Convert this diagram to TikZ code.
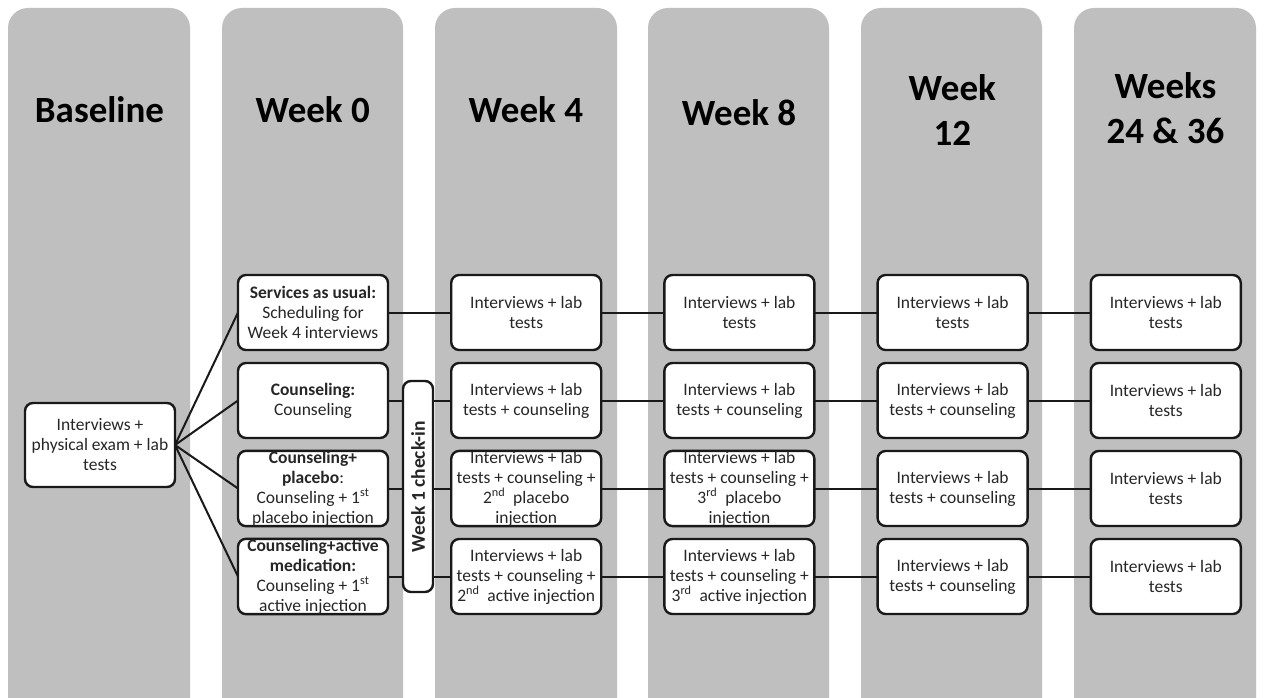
\documentclass[tikz,border=0pt]{standalone}
\usepackage{fontspec}
\setmainfont{Carlito}
\usetikzlibrary{
    positioning,
}

\definecolor{stageGray}{HTML}{BFBFBF}

\begin{document}
\begin{tikzpicture}[
    x=1pt, y=-1pt,
    node distance= 13pt and 63.2pt,
    stage/.style={fill=stageGray, rounded corners=20pt},
    stageTitle/.style={font=\bfseries\fontsize{37}{45}\selectfont, align=center, text=black},
    cell/.style={draw=black!90, fill=white, line width=2.4pt, rounded corners=8pt,
                 minimum width=150pt, minimum height=75pt, inner sep=0pt, outer sep=0pt,
                 align=center, font=\fontsize{17.5}{20}\selectfont, text=black!85},
    checkin/.style={cell, rotate=90, minimum width=211pt, minimum height=30pt,
                    font=\bfseries\fontsize{19.5}{22}\selectfont},
    link/.style={line width=2pt, draw=black!90}
]

\useasboundingbox[fill=white] (0,0) rectangle (1264,698);

% time columns
\begin{scope}
    \clip (0,0) rectangle (1264,698);
    \fill[stage] (8,8) rectangle (190,730);
    \fill[stage] (222,8) rectangle (403,730);
    \fill[stage] (435,8) rectangle (617,730);
    \fill[stage] (648,8) rectangle (829,730);
    \fill[stage] (861,8) rectangle (1042,730);
    \fill[stage] (1074,8) rectangle (1256,730);
\end{scope}

\node[stageTitle] (baselineTitle) at (99.5,110) {Baseline};
\node[stageTitle] (weekZeroTitle) at (312.7,110) {Week 0};
\node[stageTitle] (weekFourTitle) at (525.9,110) {Week 4};
\node[stageTitle] (weekEightTitle) at (739.1,113) {Week 8};
\node[stageTitle] (weekTwelveTitle) at (952.3,110) {Week\\12};
\node[stageTitle] (weekLastTitle) at (1165.5,108) {Weeks\\24 \& 36};

\node[cell, minimum height=84pt] (baseline) at (100,445)
    {Interviews +\\physical exam + lab\\tests};

% week 0: the four arms
\node[cell] (wZeroA) at (313,312.5)
    {\textbf{Services as usual:}\\Scheduling for\\Week 4 interviews};
\node[cell] (wZeroB) at (313,400.5)
    {\textbf{Counseling:}\\Counseling};
\node[cell] (wZeroC) at (313,488.5)
    {\textbf{Counseling+}\\\textbf{placebo}:\\Counseling + 1\textsuperscript{st}\\placebo injection};
\node[cell] (wZeroD) at (313,576.5)
    {\textbf{Counseling+active}\\\textbf{medication:}\\Counseling + 1\textsuperscript{st}\\active injection};

% week 4
\node[cell, right=of wZeroA] (wFourA) {Interviews + lab\\tests};
\node[cell, right=of wZeroB] (wFourB) {Interviews + lab\\tests + counseling};
\node[cell, right=of wZeroC] (wFourC)
    {Interviews + lab\\tests + counseling +\\2\textsuperscript{nd}~ placebo\\injection};
\node[cell, right=of wZeroD] (wFourD)
    {Interviews + lab\\tests + counseling +\\2\textsuperscript{nd}~ active injection};

% week 8
\node[cell, right=of wFourA] (wEightA) {Interviews + lab\\tests};
\node[cell, right=of wFourB] (wEightB) {Interviews + lab\\tests + counseling};
\node[cell, right=of wFourC] (wEightC)
    {Interviews + lab\\tests + counseling +\\3\textsuperscript{rd}~ placebo\\injection};
\node[cell, right=of wFourD] (wEightD)
    {Interviews + lab\\tests + counseling +\\3\textsuperscript{rd}~ active injection};

% week 12
\node[cell, right=of wEightA] (wTwelveA) {Interviews + lab\\tests};
\node[cell, right=of wEightB] (wTwelveB) {Interviews + lab\\tests + counseling};
\node[cell, right=of wEightC] (wTwelveC) {Interviews + lab\\tests + counseling};
\node[cell, right=of wEightD] (wTwelveD) {Interviews + lab\\tests + counseling};

% weeks 24 & 36
\node[cell, right=of wTwelveA] (wLastA) {Interviews + lab\\tests};
\node[cell, right=of wTwelveB] (wLastB) {Interviews + lab\\tests};
\node[cell, right=of wTwelveC] (wLastC) {Interviews + lab\\tests};
\node[cell, right=of wTwelveD] (wLastD) {Interviews + lab\\tests};

\draw[link] (baseline.east) -- (wZeroA.west);
\draw[link] (baseline.east) -- (wZeroB.west);
\draw[link] (baseline.east) -- (wZeroC.west);
\draw[link] (baseline.east) -- (wZeroD.west);

\draw[link] (wZeroA) -- (wFourA) -- (wEightA) -- (wTwelveA) -- (wLastA);
\draw[link] (wZeroB) -- (wFourB) -- (wEightB) -- (wTwelveB) -- (wLastB);
\draw[link] (wZeroC) -- (wFourC) -- (wEightC) -- (wTwelveC) -- (wLastC);
\draw[link] (wZeroD) -- (wFourD) -- (wEightD) -- (wTwelveD) -- (wLastD);

\node[checkin] (checkIn) at (418,486.5) {Week 1 check-in};

\end{tikzpicture}
\end{document}
